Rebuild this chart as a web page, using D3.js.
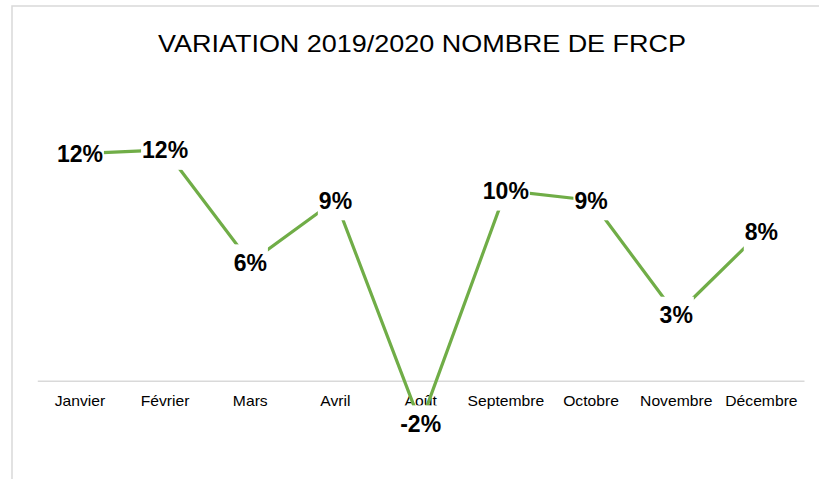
<!DOCTYPE html>
<html>
<head>
<meta charset="utf-8">
<script src="https://cdn.jsdelivr.net/npm/d3@7"></script>
<style>
  body { margin: 0; background: #fff; }
  svg { display: block; font-family: 'Liberation Sans', Arial, sans-serif; }
</style>
</head>
<body>
<div id="chart"></div>
<script>
// data
const months = ['Janvier', 'Février', 'Mars', 'Avril', 'Août', 'Septembre', 'Octobre', 'Novembre', 'Décembre'];
const variation = [0.117, 0.119, 0.061, 0.093, -0.022, 0.098, 0.093, 0.034, 0.077];
const title = 'VARIATION 2019/2020 NOMBRE DE FRCP';

const width = 819;
const height = 479;
const green = '#70AD47';
const grey = '#d9d9d9';
const stretch = 1.12; // the original is a bit wide

const svg = d3
  .select('#chart')
  .append('svg')
  .attr('width', width)
  .attr('height', height);

// chart area frame (runs off right and bottom)
svg
  .append('rect')
  .attr('x', 12)
  .attr('y', 6)
  .attr('width', 900)
  .attr('height', 600)
  .attr('fill', '#fff')
  .attr('stroke', grey)
  .attr('stroke-width', 1.5);

svg
  .append('text')
  .attr('x', 158)
  .attr('y', 52)
  .attr('textLength', 528)
  .attr('lengthAdjust', 'spacingAndGlyphs')
  .style('font-size', '24px')
  .attr('fill', '#000')
  .text(title);

const x = d3.scaleBand().domain(months).range([37.3, 804]);
const y = d3.scaleLinear().domain([-0.04, 0.14]).range([458.3, 109.1]);
const cx = d => x(d) + x.bandwidth() / 2;

const fmt = d3.formatLocale({ decimal: ',', thousands: ' ', grouping: [3], currency: ['', '€'], minus: '-' }).format('.0%');

// category axis sits on zero
const axis = svg
  .append('g')
  .attr('transform', `translate(0,${y(0)})`)
  .call(d3.axisBottom(x).tickSize(0).tickSizeOuter(0).tickPadding(15));

axis.select('.domain').attr('stroke', grey).attr('stroke-width', 1.5);
axis
  .selectAll('text')
  .style('font-size', '14px')
  .style('font-family', "'Liberation Sans', Arial, sans-serif")
  .attr('fill', '#000')
  .attr('transform', `scale(${stretch},1)`);

const pts = months.map((m, i) => ({ m, v: variation[i] }));

const line = d3
  .line()
  .x(d => cx(d.m))
  .y(d => y(d.v));

svg
  .append('path')
  .datum(pts)
  .attr('d', line)
  .attr('fill', 'none')
  .attr('stroke', green)
  .attr('stroke-width', 3.2)
  .attr('stroke-linejoin', 'round');

// data labels, centred on the points, white box hides the line
const lab = svg
  .append('g')
  .selectAll('g')
  .data(pts)
  .join('g')
  .attr('transform', d => `translate(${cx(d.m)},${y(d.v)})`);

lab
  .append('text')
  .attr('text-anchor', 'middle')
  .attr('y', 8.3)
  .style('font-size', '23px')
  .style('font-weight', 'bold')
  .attr('fill', '#000')
  .text(d => fmt(d.v));

lab.each(function () {
  const g = d3.select(this);
  const w = g.select('text').node().getComputedTextLength();
  g.insert('rect', 'text')
    .attr('x', -w / 2 - 1)
    .attr('y', -18)
    .attr('width', w + 2)
    .attr('height', 38)
    .attr('fill', '#fff');
});
</script>
</body>
</html>
